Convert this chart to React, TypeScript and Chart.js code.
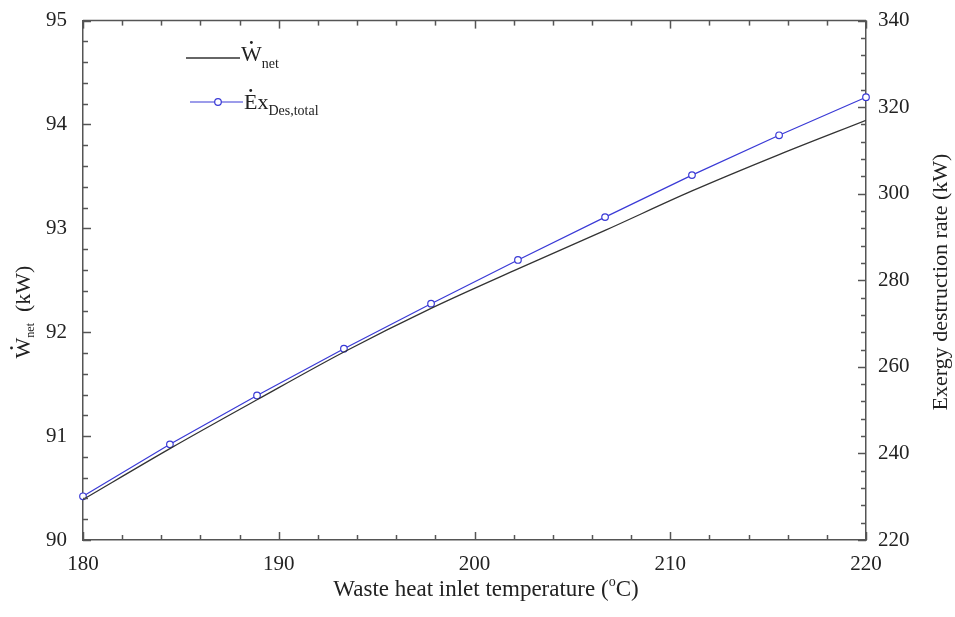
import React, { useEffect, useRef } from "react";
import { Chart, registerables } from "chart.js";

Chart.register(...registerables);

const temps = [180, 184.44, 188.89, 193.33, 197.78, 202.22, 206.67, 211.11, 215.56, 220];
const wnet = [90.39, 90.88, 91.35, 91.81, 92.23, 92.61, 92.98, 93.36, 93.71, 94.04];
const exDes = [230.1, 242.1, 253.4, 264.2, 274.6, 284.7, 294.6, 304.3, 313.5, 322.3];

const xTicks = [180, 190, 200, 210, 220];
const leftTicks = [90, 91, 92, 93, 94, 95];
const rightTicks = [220, 240, 260, 280, 300, 320, 340];

const xTitle = "Waste heat inlet temperature (";
const rightTitle = "Exergy destruction rate (kW)";

const SERIF = '"Liberation Serif", "Times New Roman", serif';
const BLUE = "#3a3ad6";
const BLACK = "#333333";
const AXIS = "#555555";

type Part = { t: string; size: number; dy: number; dot?: boolean };

function partsWidth(ctx: CanvasRenderingContext2D, parts: Part[]) {
  let w = 0;
  for (const p of parts) {
    ctx.font = `${p.size}px ${SERIF}`;
    w += ctx.measureText(p.t).width;
  }
  return w;
}

function drawParts(ctx: CanvasRenderingContext2D, parts: Part[], x: number, y: number, center: boolean) {
  let cx = center ? x - partsWidth(ctx, parts) / 2 : x;
  ctx.textAlign = "left";
  ctx.textBaseline = "alphabetic";
  for (const p of parts) {
    ctx.font = `${p.size}px ${SERIF}`;
    ctx.fillText(p.t, cx, y + p.dy);
    const w = ctx.measureText(p.t).width;
    if (p.dot) {
      ctx.beginPath();
      ctx.arc(cx + w / 2, y + p.dy - p.size * 0.84, p.size * 0.065, 0, Math.PI * 2);
      ctx.fill();
    }
    cx += w;
  }
}

const decorPlugin = {
  id: "decor",
  afterDraw(chart: any) {
    const { ctx, chartArea: a, scales } = chart;
    const xs = scales.x;
    const yl = scales.y;
    const yr = scales.y1;
    ctx.save();
    ctx.strokeStyle = AXIS;
    ctx.lineWidth = 1.5;
    const seg = (x1: number, y1: number, x2: number, y2: number) => {
      ctx.beginPath();
      ctx.moveTo(x1, y1);
      ctx.lineTo(x2, y2);
      ctx.stroke();
    };
    // top border
    seg(a.left, a.top, a.right, a.top);
    // x ticks (bottom and top), every 2, major every 10
    for (let i = 0; i <= 20; i++) {
      const v = 180 + i * 2;
      const px = Math.round(xs.getPixelForValue(v)) + 0.5;
      const len = i % 5 === 0 ? 8 : 5;
      seg(px, a.bottom, px, a.bottom - len);
      seg(px, a.top, px, a.top + len);
    }
    // left ticks every 0.2
    for (let i = 0; i <= 25; i++) {
      const v = 90 + i * 0.2;
      const py = Math.round(yl.getPixelForValue(v)) + 0.5;
      const len = i % 5 === 0 ? 8 : 5;
      seg(a.left, py, a.left + len, py);
    }
    // right ticks every 4
    for (let i = 0; i <= 30; i++) {
      const v = 220 + i * 4;
      const py = Math.round(yr.getPixelForValue(v)) + 0.5;
      const len = i % 5 === 0 ? 8 : 5;
      seg(a.right, py, a.right - len, py);
    }

    ctx.fillStyle = "#222";
    // x title
    drawParts(
      ctx,
      [
        { t: xTitle, size: 23, dy: 0 },
        { t: "o", size: 14, dy: -10 },
        { t: "C)", size: 23, dy: 0 },
      ],
      486,
      596,
      true
    );
    // left title
    ctx.save();
    ctx.translate(30, 312);
    ctx.rotate(-Math.PI / 2);
    drawParts(
      ctx,
      [
        { t: "W", size: 22, dy: 0, dot: true },
        { t: "net", size: 12, dy: 4 },
        { t: "  (kW)", size: 22, dy: 0 },
      ],
      0,
      0,
      true
    );
    ctx.restore();
    // right title
    ctx.save();
    ctx.translate(947, 282);
    ctx.rotate(-Math.PI / 2);
    drawParts(ctx, [{ t: rightTitle, size: 22, dy: 0 }], 0, 0, true);
    ctx.restore();

    // legend
    ctx.strokeStyle = BLACK;
    ctx.lineWidth = 1.3;
    seg(186, 58, 240, 58);
    drawParts(
      ctx,
      [
        { t: "W", size: 22, dy: 0, dot: true },
        { t: "net", size: 14, dy: 7 },
      ],
      241,
      61,
      false
    );
    ctx.strokeStyle = BLUE;
    ctx.lineWidth = 1.2;
    seg(190, 102, 243, 102);
    ctx.beginPath();
    ctx.arc(218, 102, 3.3, 0, Math.PI * 2);
    ctx.fillStyle = "#fff";
    ctx.fill();
    ctx.stroke();
    ctx.fillStyle = "#222";
    drawParts(
      ctx,
      [
        { t: "E", size: 22, dy: 0, dot: true },
        { t: "x", size: 22, dy: 0 },
        { t: "Des,total", size: 14, dy: 6 },
      ],
      244,
      109,
      false
    );
    ctx.restore();
  },
};

export default function App() {
  const ref = useRef<HTMLCanvasElement | null>(null);
  useEffect(() => {
    document.body.style.margin = "0";
    document.body.style.overflow = "hidden";
    const canvas = ref.current;
    if (!canvas) return;
    const tickFont = { family: SERIF, size: 21 };
    const chart = new Chart(canvas, {
      type: "line",
      data: {
        datasets: [
          {
            label: "Wnet",
            data: temps.map((t, i) => ({ x: t, y: wnet[i] })),
            yAxisID: "y",
            borderColor: BLACK,
            borderWidth: 1.3,
            pointRadius: 0,
            cubicInterpolationMode: "monotone",
            fill: false,
          },
          {
            label: "ExDes,total",
            data: temps.map((t, i) => ({ x: t, y: exDes[i] })),
            yAxisID: "y1",
            borderColor: BLUE,
            borderWidth: 1.2,
            pointRadius: 3.3,
            pointBorderWidth: 1.2,
            pointBackgroundColor: "#ffffff",
            pointBorderColor: BLUE,
            tension: 0,
            clip: false as any,
            fill: false,
          },
        ],
      },
      options: {
        responsive: false,
        animation: false,
        layout: { padding: { top: 19, left: 0, right: 0, bottom: 0 } },
        plugins: { legend: { display: false }, tooltip: { enabled: false } },
        scales: {
          x: {
            type: "linear",
            min: 180,
            max: 220,
            afterBuildTicks: (s: any) => {
              s.ticks = xTicks.map((v) => ({ value: v }));
            },
            afterFit: (s: any) => {
              s.height = 77;
            },
            ticks: { font: tickFont, color: "#222", padding: 4, maxRotation: 0 },
            grid: { display: false },
            border: { display: true, color: AXIS, width: 1.5 },
          },
          y: {
            type: "linear",
            position: "left",
            min: 90,
            max: 95,
            afterBuildTicks: (s: any) => {
              s.ticks = leftTicks.map((v) => ({ value: v }));
            },
            afterFit: (s: any) => {
              s.width = 83;
            },
            ticks: { font: tickFont, color: "#222", padding: 8 },
            grid: { display: false },
            border: { display: true, color: AXIS, width: 1.5 },
          },
          y1: {
            type: "linear",
            position: "right",
            min: 220,
            max: 340,
            afterBuildTicks: (s: any) => {
              s.ticks = rightTicks.map((v) => ({ value: v }));
            },
            afterFit: (s: any) => {
              s.width = 89;
            },
            ticks: { font: tickFont, color: "#222", padding: 4 },
            grid: { display: false },
            border: { display: true, color: AXIS, width: 1.5 },
          },
        },
      } as any,
      plugins: [decorPlugin],
    });
    return () => chart.destroy();
  }, []);
  return (
    <div style={{ width: 955, height: 617, position: "relative" }}>
      <canvas ref={ref} width={955} height={617} style={{ display: "block" }} />
    </div>
  );
}
